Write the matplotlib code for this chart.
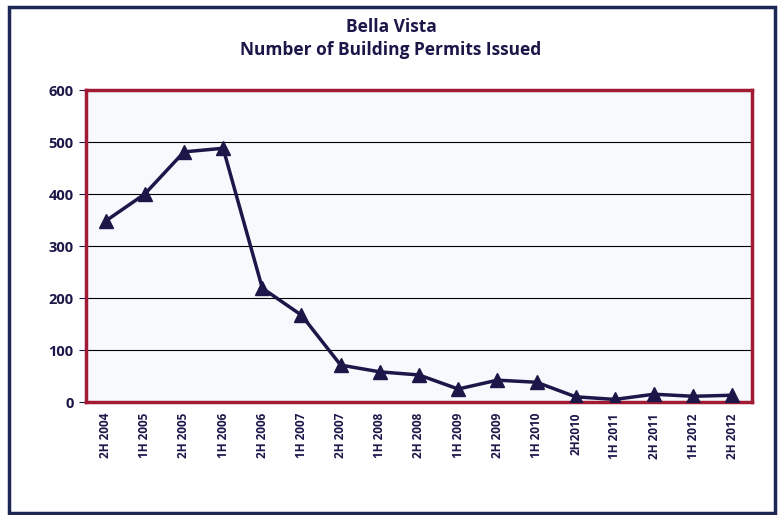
import matplotlib
matplotlib.use("Agg")
import matplotlib.pyplot as plt
from matplotlib.patches import Rectangle

periods = ["2H 2004", "1H 2005", "2H 2005", "1H 2006", "2H 2006", "1H 2007",
           "2H 2007", "1H 2008", "2H 2008", "1H 2009", "2H 2009", "1H 2010",
           "2H2010", "1H 2011", "2H 2011", "1H 2012", "2H 2012"]
permits = [348, 400, 481, 488, 219, 167, 71, 58, 52, 25, 42, 38, 10, 5, 15, 11, 13]
yticks = [0, 100, 200, 300, 400, 500, 600]

navy = "#1b1748"
red = "#a11b35"

plt.rcParams['font.family'] = ['Open Sans', 'DejaVu Sans']

fig = plt.figure(figsize=(7.82, 5.15), dpi=100)
fig.patches.append(Rectangle((0.011, 0.004), 0.98, 0.983, transform=fig.transFigure,
                             fill=False, edgecolor="#1c2755", linewidth=2.5))

ax = fig.add_axes([0.110, 0.2194, 0.8516, 0.6058])
ax.set_facecolor("#f7f9fd")
x = list(range(len(periods)))
ax.plot(x, permits, color=navy, linewidth=2.5, marker="^", markersize=10,
        markerfacecolor=navy, markeredgecolor=navy, zorder=3)

ax.set_xlim(-0.5, len(periods) - 0.5)
ax.set_ylim(0, 600)
ax.set_yticks(yticks)
ax.set_yticklabels([str(v) for v in yticks], fontsize=10.5, fontweight="bold", color=navy)
ax.set_xticks(x)
ax.set_xticklabels(periods, rotation=90, fontsize=8.5, fontweight="bold", color=navy)
ax.grid(axis="y", color="black", linewidth=0.8)
ax.set_axisbelow(True)
for s in ax.spines.values():
    s.set_color(red)
    s.set_linewidth(2.5)
ax.tick_params(axis="y", length=5, color=navy, pad=4)
ax.tick_params(axis="x", length=0, pad=8)

fig.text(0.5, 0.947, "Bella Vista", ha="center", va="center", fontsize=12.5,
         fontweight="bold", color=navy)
fig.text(0.5, 0.903, "Number of Building Permits Issued", ha="center", va="center",
         fontsize=12.5, fontweight="bold", color=navy)

fig.savefig("out.png", dpi=100)
